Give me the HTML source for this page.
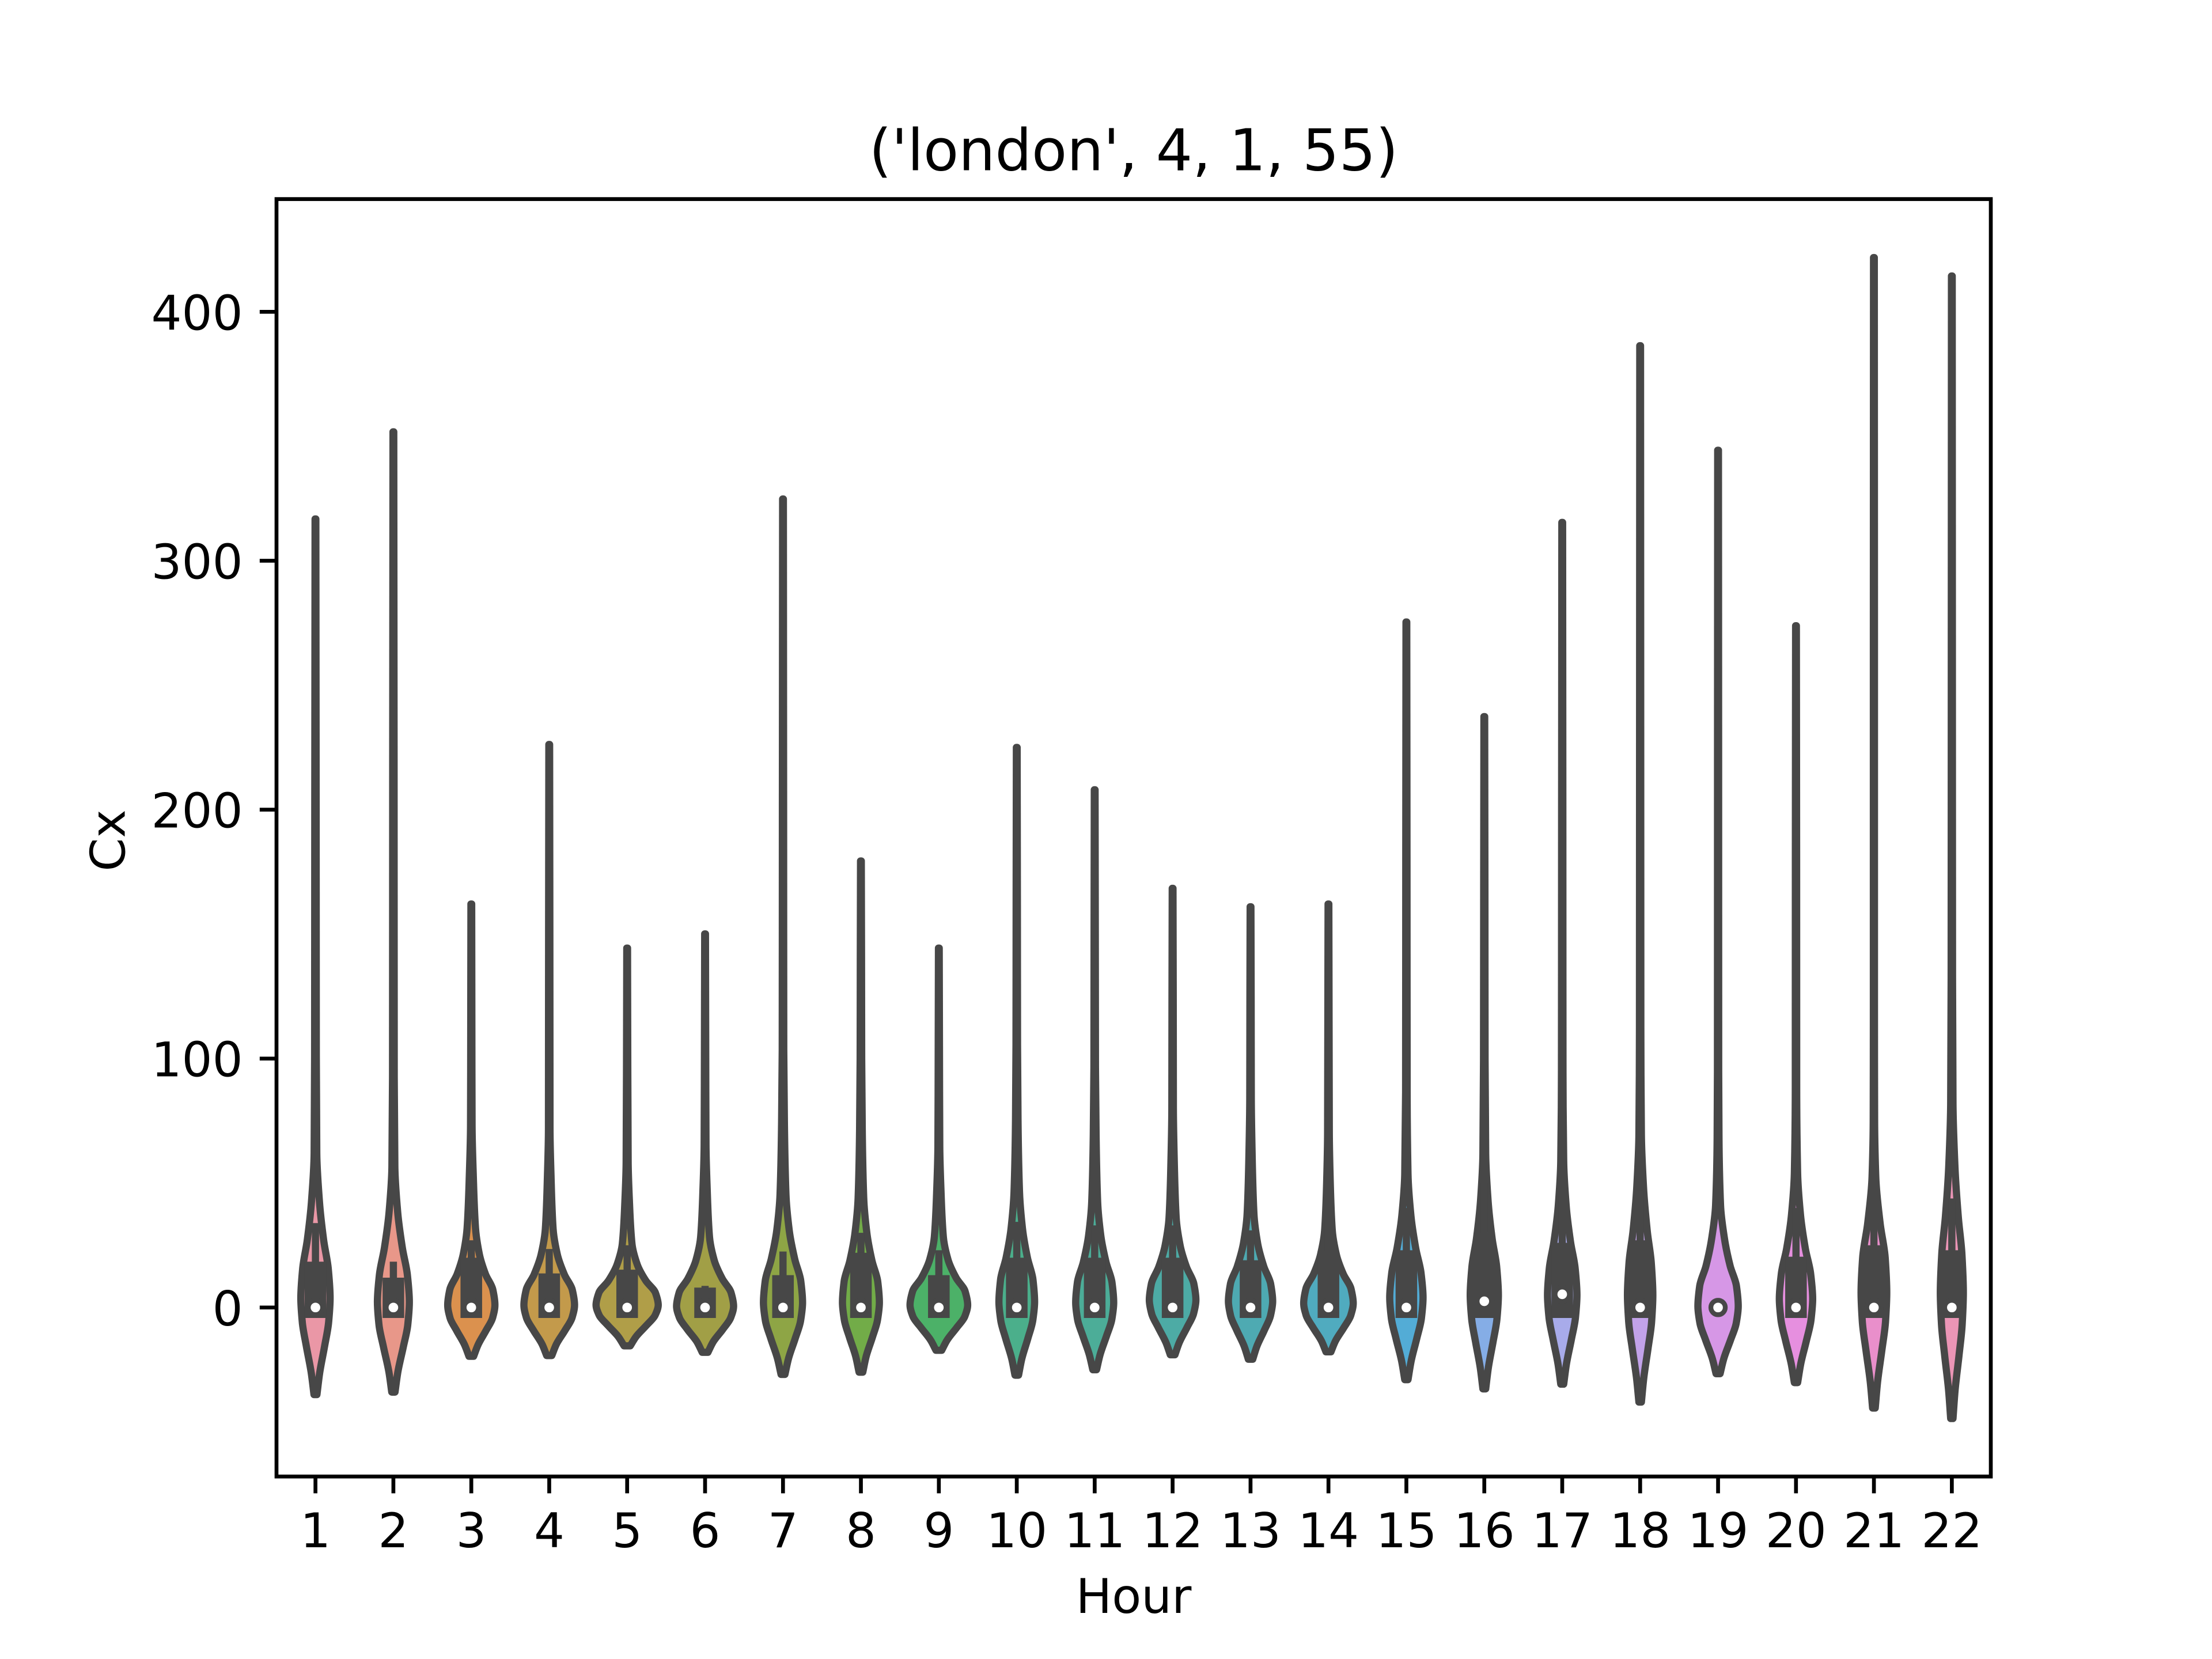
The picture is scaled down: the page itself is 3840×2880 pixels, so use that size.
<!DOCTYPE html>
<html lang="en">
<head>
<meta charset="utf-8">
<title>('london', 4, 1, 55)</title>
<style>
html,body{margin:0;padding:0;background:#fff;}
svg{display:block;}
text{font-family:"DejaVu Sans","Liberation Sans",sans-serif;fill:#000;}
</style>
</head>
<body>
<svg id="chart" xmlns="http://www.w3.org/2000/svg" width="3840" height="2880" viewBox="0 0 3840 2880"></svg>
<script>
const hours = ['1','2','3','4','5','6','7','8','9','10','11','12','13','14','15','16','17','18','19','20','21','22'];
const yTicks = [0,100,200,300,400];
const yDomain = [-67.9,445.3];
const fillColors = ['#EA97A6','#E89789','#DB914E','#C39A4B','#B09E48','#A19F46','#8EA545','#72AC48','#4CB168','#4BAF8B','#4CAD98','#4DABA5','#4EAAB2','#50ABBF','#53ACD6','#85ADE6','#A8ABEA','#C2A2E9','#D697E6','#E68FDF','#E98FCB','#EB95B6'];

// Cx levels at which each violin's density was read
const violinLevels = [
[-35,-26.5,-15.6,-5.9,3.8,15.4,27.1,42.6,62,100.8,200,316.8],
[-34,-26,-15.9,-6.9,2.2,13,24,38.4,56.5,92.7,220,351.8],
[-19.6,-15.1,-9.3,-4.2,1,7.2,13.4,21.6,31.9,52.5,73.1,120,162.1],
[-19.3,-14.8,-9.2,-4.1,1,7.1,13.2,21.3,31.5,51.8,72,150,226.2],
[-15.4,-11.8,-7.2,-3.1,1,5.9,10.8,17.4,25.6,42,58.4,100,144.4],
[-18,-13.9,-8.8,-4.1,0.5,6,11.6,19,28.3,46.8,65.3,110,150.1],
[-26.9,-20.6,-12.5,-5.3,2,10.7,19.4,31,45.5,74.5,103.5,200,324.8],
[-26,-19.8,-12,-5,2,10.4,18.8,30,44,72,100,140,179.4],
[-17.2,-13.2,-8.1,-3.6,1,6.5,11.9,19.2,28.3,46.5,64.7,105,144.4],
[-27.2,-20.7,-12.5,-5.1,2.3,11.2,20,31.8,46.6,76,105.5,165,225],
[-25,-19.1,-11.5,-4.8,2,10.1,18.2,29,42.5,69.5,96.5,150,208],
[-19,-14.2,-8,-2.5,3,9.6,16.2,25,36,58,80,125,168.4],
[-20.8,-15.7,-9.2,-3.3,2.5,9.5,16.5,25.8,37.5,60.8,84,125,161],
[-17.8,-13.5,-8.1,-3.2,1.7,7.6,13.4,21.2,31,50.5,70,115,162.1],
[-29,-21.7,-12.5,-4.3,4,13.9,23.8,37,53.5,86.5,180,275.4],
[-32.7,-24.4,-13.9,-4.4,5,16.3,27.6,42.7,61.6,99.3,170,237.4],
[-30.8,-22.9,-12.9,-4,5,15.7,26.5,40.8,58.7,94.5,200,315.4],
[-38,-28.5,-16.5,-5.8,5,17.9,30.8,48,69.5,112.5,250,386.4],
[-26.6,-20.6,-13,-6.3,0.5,8.6,16.7,27.5,41,68,95,220,344.4],
[-30.2,-22.8,-13.4,-4.9,3.5,13.6,23.7,37.2,54,87.8,180,273.9],
[-40.4,-30.2,-17.2,-5.6,6,19.9,33.8,52.4,75.6,122,270,421.8],
[-44.6,-33.5,-19.3,-6.7,6,21.2,36.4,56.6,81.9,132.5,270,414.4]
];
// half-width of each violin at those levels, thousandths of a category
const violinDensity = [
[19,53,117,169,188,165,105,51,17,11,9,5],
[21,57,127,185,205,180,115,55,19,11,9,5],
[30,85,188,273,303,276,182,102,54,26,10,7,5],
[33,91,202,293,325,296,195,104,50,24,10,8,5],
[40,112,247,359,399,363,239,128,62,30,13,8,5],
[37,102,227,329,366,333,220,117,57,28,12,8,5],
[25,70,156,226,251,228,151,80,38,18,10,8,5],
[24,66,147,213,237,216,142,76,36,17,10,8,5],
[37,104,229,333,370,337,222,118,58,28,12,8,5],
[23,64,142,206,229,208,137,73,35,16,10,8,5],
[24,68,151,220,244,222,146,78,38,18,10,8,5],
[30,84,185,269,299,272,179,96,46,22,10,8,5],
[28,80,176,256,284,258,170,91,44,21,10,8,5],
[32,89,197,286,318,289,191,102,49,23,11,8,5],
[21,60,133,193,214,188,120,58,21,10,8,5],
[18,51,112,163,181,159,101,49,18,10,8,5],
[19,53,117,170,189,166,106,51,19,10,8,5],
[16,46,101,147,163,143,91,44,16,9,7,5],
[26,73,161,233,259,236,155,83,32,12,8,7,5],
[21,60,133,193,214,188,120,58,21,9,8,5],
[17,46,102,149,165,145,80,24,9,7,7,5],
[15,41,92,133,148,130,83,40,15,9,7,5]
];
const q1Values = [-4.2,-4.2,-4.2,-4.2,-4.2,-4.2,-4.2,-4.2,-4.2,-4.2,-4.2,-4.2,-4.2,-4.2,-4.2,-4.2,-4.2,-4.2,0,-4.2,-4.2,-4.2];
const q3Values = [18.4,12,20,13.7,15.2,8,13,22,13,20,20,20,19,22.7,23,30,26,27,0,20.4,25,23];
const whiskerHigh = [33.9,18.4,27,23.5,25,8.7,22.5,30,23,34.4,33,33,31,35,40,50,45,47,0,40,44,43.8];
const medians = [0,0,0,0,0,0,0,0,0,0,0,0,0,0,0,2.5,5.3,0,0,0,0,0];

const AX = {l:480,r:3456,t:345.6,b:2563.2};
const GRAY = '#474747';
const NS = 'http://www.w3.org/2000/svg';
const svg = document.getElementById('chart');

function xScale(c){ return AX.l + (c + 0.5) * (AX.r - AX.l) / hours.length; }
function yScale(v){ return AX.b - (v - yDomain[0]) * (AX.b - AX.t) / (yDomain[1] - yDomain[0]); }
function make(tag, attrs, parent){
  const el = document.createElementNS(NS, tag);
  for (const k in attrs) el.setAttribute(k, attrs[k]);
  (parent || svg).appendChild(el);
  return el;
}
function f(n){ return n.toFixed(2); }

// piecewise-cubic outline, width as a function of Cx
function slopes(ys, ws){
  const n = ys.length, sec = [], m = [];
  for (let i = 0; i < n - 1; i++) sec.push((ws[i+1] - ws[i]) / (ys[i+1] - ys[i]));
  m[0] = sec[0];
  m[n-1] = sec[n-2];
  for (let i = 1; i < n - 1; i++) {
    if (sec[i-1] * sec[i] <= 0) { m[i] = 0; continue; }
    const h0 = ys[i] - ys[i-1], h1 = ys[i+1] - ys[i];
    const a = 2 * h1 + h0, b = h1 + 2 * h0;
    m[i] = (a + b) / (a / sec[i-1] + b / sec[i]);
  }
  return m;
}
function violinPath(c, levels, density){
  const ws = density.map(function(d){ return d / 1000; });
  const m = slopes(levels, ws);
  let right = '', left = '';
  const n = levels.length;
  const start = 'M' + f(xScale(c + ws[0])) + ' ' + f(yScale(levels[0]));
  for (let i = 0; i < n - 1; i++) {
    const h = levels[i+1] - levels[i];
    const y1 = levels[i] + h / 3, y2 = levels[i+1] - h / 3;
    const w1 = ws[i] + m[i] * h / 3, w2 = ws[i+1] - m[i+1] * h / 3;
    right += 'C' + f(xScale(c + w1)) + ' ' + f(yScale(y1)) + ' ' + f(xScale(c + w2)) + ' ' + f(yScale(y2)) + ' ' + f(xScale(c + ws[i+1])) + ' ' + f(yScale(levels[i+1]));
  }
  left += 'L' + f(xScale(c - ws[n-1])) + ' ' + f(yScale(levels[n-1]));
  for (let i = n - 2; i >= 0; i--) {
    const h = levels[i+1] - levels[i];
    const y1 = levels[i] + h / 3, y2 = levels[i+1] - h / 3;
    const w1 = ws[i] + m[i] * h / 3, w2 = ws[i+1] - m[i+1] * h / 3;
    left += 'C' + f(xScale(c - w2)) + ' ' + f(yScale(y2)) + ' ' + f(xScale(c - w1)) + ' ' + f(yScale(y1)) + ' ' + f(xScale(c - ws[i])) + ' ' + f(yScale(levels[i]));
  }
  return start + right + left + 'Z';
}

const bg = make('rect', {x:0, y:0, width:3840, height:2880, fill:'#fff'});



const plotBg = make('rect', {x:AX.l, y:AX.t, width:AX.r-AX.l, height:AX.b-AX.t, fill:'#fff'});



hours.forEach(function(h, i){
  const g = make('g', {});
  
  

  const body = make('path', {d:violinPath(i, violinLevels[i], violinDensity[i]), fill:fillColors[i], stroke:GRAY, 'stroke-width':12.5, 'stroke-linejoin':'round'}, g);
  
  

  const whisker = make('line', {x1:xScale(i), x2:xScale(i), y1:yScale(q1Values[i]), y2:yScale(whiskerHigh[i]), stroke:GRAY, 'stroke-width':12.5}, g);
  
  

  const box = make('line', {x1:xScale(i), x2:xScale(i), y1:yScale(q1Values[i]), y2:yScale(q3Values[i]), stroke:GRAY, 'stroke-width':37.5}, g);
  
  

  const dot = make('circle', {cx:xScale(i), cy:yScale(medians[i]), r:12.5, fill:'#fff', stroke:GRAY, 'stroke-width':8.33}, g);
  
  
});

const frame = make('rect', {x:AX.l, y:AX.t, width:AX.r-AX.l, height:AX.b-AX.t, fill:'none', stroke:'#000', 'stroke-width':6.67});



hours.forEach(function(h, i){
  const tick = make('line', {x1:xScale(i), x2:xScale(i), y1:AX.b, y2:AX.b+29.17, stroke:'#000', 'stroke-width':6.67});
  
  
  const label = make('text', {x:xScale(i), y:2686, 'font-size':83.33, 'text-anchor':'middle'});
  label.textContent = h;
  
  
});

yTicks.forEach(function(v){
  const tick = make('line', {x1:AX.l-29.17, x2:AX.l, y1:yScale(v), y2:yScale(v), stroke:'#000', 'stroke-width':6.67});
  
  
  const label = make('text', {x:421.6, y:yScale(v)+31, 'font-size':83.33, 'text-anchor':'end'});
  label.textContent = String(v);
  
  
});

const title = make('text', {x:1968, y:295.6, 'font-size':100, 'text-anchor':'middle'});
title.textContent = "('london', 4, 1, 55)";



const xTitle = make('text', {x:1968, y:2800, 'font-size':83.33, 'text-anchor':'middle'});
xTitle.textContent = 'Hour';



const yTitle = make('text', {x:0, y:0, 'font-size':83.33, 'text-anchor':'middle', transform:'translate(216.5 1459) rotate(-90)'});
yTitle.textContent = 'Cx';


</script>
</body>
</html>
